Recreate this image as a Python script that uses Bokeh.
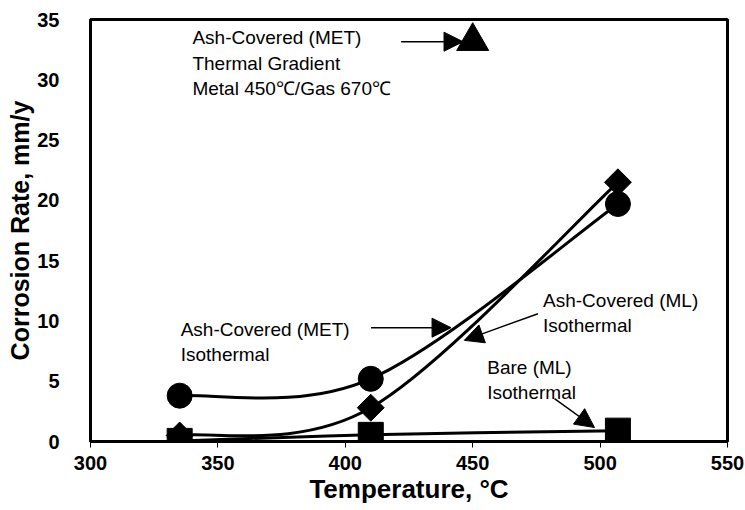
import numpy as np
from bokeh.plotting import figure
from bokeh.models import Range1d, FixedTicker, Arrow, NormalHead, ColumnDataSource
from bokeh.core.properties import value
from bokeh.embed import file_html
from bokeh.resources import INLINE

# ---- data ----
temp = [335, 410, 507]
met_iso = [3.8, 5.2, 19.7]      # Ash-Covered (MET) Isothermal  (circles)
ml_iso = [0.5, 2.8, 21.5]       # Ash-Covered (ML) Isothermal   (diamonds)
bare_ml = [0.05, 0.55, 0.9]     # Bare (ML) Isothermal          (squares)
grad_temp = [450]
grad_rate = [33.2]              # Ash-Covered (MET) Thermal Gradient (triangle)

x_ticks = [300, 350, 400, 450, 500, 550]
y_ticks = [0, 5, 10, 15, 20, 25, 30, 35]

ann_text = ["Ash-Covered (MET)\nThermal Gradient\nMetal 450\u2103/Gas 670\u2103",
            "Ash-Covered (MET)\nIsothermal",
            "Ash-Covered (ML)\nIsothermal",
            "Bare (ML)\nIsothermal"]
ann_x = [340.0, 335.4, 477.6, 455.7]
ann_y = [34.35, 10.18, 12.54, 7.0]

arr_x0 = [421.9, 410.1, 475.6, 482.1]
arr_y0 = [33.16, 9.44, 10.6, 3.55]
arr_x1 = [446.2, 441.5, 446.7, 497.8]
arr_y1 = [33.16, 9.44, 8.39, 1.16]

FONT = "Liberation Sans"


def smooth(xs, ys):
    """Excel-like smoothed line: cubic Bezier segments (Catmull-Rom, tension 1/6)."""
    xs = np.asarray(xs, float); ys = np.asarray(ys, float)
    n = len(xs)
    out = dict(x0=[], y0=[], x1=[], y1=[], cx0=[], cy0=[], cx1=[], cy1=[])
    for i in range(n - 1):
        a = max(i - 1, 0); d = min(i + 2, n - 1)
        out["x0"].append(xs[i]); out["y0"].append(ys[i])
        out["x1"].append(xs[i + 1]); out["y1"].append(ys[i + 1])
        out["cx0"].append(xs[i] + (xs[i + 1] - xs[a]) / 6)
        out["cy0"].append(ys[i] + (ys[i + 1] - ys[a]) / 6)
        out["cx1"].append(xs[i + 1] - (xs[d] - xs[i]) / 6)
        out["cy1"].append(ys[i + 1] - (ys[d] - ys[i]) / 6)
    return ColumnDataSource(out)


p = figure(width=745, height=510, x_range=Range1d(300, 550), y_range=Range1d(0, 35),
           output_backend="svg", toolbar_location=None,
           min_border_left=90, min_border_right=18, min_border_top=19, min_border_bottom=69)
p.background_fill_color = "white"
p.border_fill_color = "white"
p.outline_line_color = "black"
p.outline_line_width = 3
p.outline_line_alpha = 1
p.grid.visible = False

p.xaxis.ticker = FixedTicker(ticks=x_ticks)
p.yaxis.ticker = FixedTicker(ticks=y_ticks)
for ax in (p.xaxis[0], p.yaxis[0]):
    ax.axis_line_color = None
    ax.minor_tick_line_color = None
    ax.major_label_text_font = FONT
    ax.major_label_text_font_style = "bold"
    ax.major_label_text_font_size = "20px"
    ax.major_label_text_color = "black"
    ax.axis_label_text_font = FONT
    ax.axis_label_text_font_style = "bold"
    ax.axis_label_text_color = "black"

p.xaxis.axis_label = "Temperature, °C"
p.xaxis.axis_label_text_font_size = "26px"
p.xaxis.major_tick_out = 6
p.xaxis.major_tick_in = 0
p.xaxis.major_tick_line_color = "black"
p.xaxis.major_tick_line_width = 1
p.xaxis.major_label_standoff = 8
p.xaxis.axis_label_standoff = 1

p.yaxis.axis_label = "Corrosion Rate, mm/y"
p.yaxis.axis_label_text_font_size = "25px"
p.yaxis.major_tick_line_color = None
p.yaxis.major_tick_out = 0
p.yaxis.major_tick_in = 0
p.yaxis.major_label_standoff = 31
p.yaxis.axis_label_standoff = 0

# smoothed lines
for ys in (met_iso, ml_iso, bare_ml):
    p.bezier(x0="x0", y0="y0", x1="x1", y1="y1", cx0="cx0", cy0="cy0", cx1="cx1", cy1="cy1",
             source=smooth(temp, ys), line_color="black", line_width=3)

# markers
p.scatter(temp, bare_ml, marker="square", size=25, color="black")
p.scatter(temp, ml_iso, marker="square", size=19, angle=np.pi / 4, color="black")
p.scatter(temp, met_iso, marker="circle", size=25, color="black")
p.scatter(grad_temp, grad_rate, marker="triangle", size=32, color="black")

# arrows
for xa, ya, xb, yb in zip(arr_x0, arr_y0, arr_x1, arr_y1):
    p.add_layout(Arrow(end=NormalHead(size=19, fill_color="black", line_color="black"),
                       x_start=xa, y_start=ya, x_end=xb, y_end=yb,
                       line_color="black", line_width=1.5))

# annotation texts
p.text(x=ann_x, y=ann_y, text=ann_text, text_font=value(FONT), text_font_size="19px",
       text_color="black", text_align="left", text_baseline="top", text_line_height=1.2)

open("out.html", "w").write(file_html(p, INLINE))
